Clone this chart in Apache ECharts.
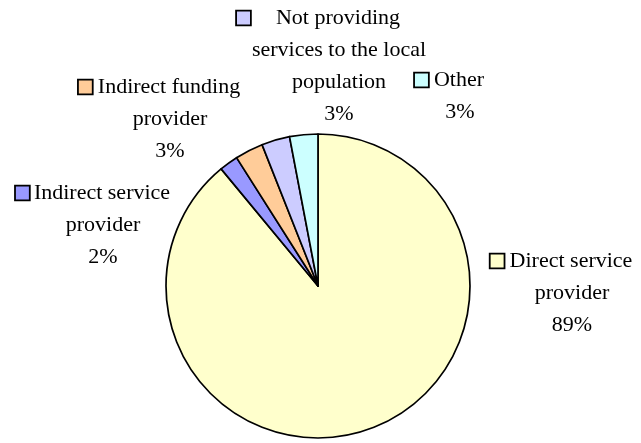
<!DOCTYPE html>
<html>
<head>
<meta charset="utf-8">
<script src="https://cdn.jsdelivr.net/npm/echarts@6/dist/echarts.min.js"></script>
<style>
  html, body { margin: 0; padding: 0; background: #ffffff; }
  #chart { width: 641px; height: 443px; }
</style>
</head>
<body>
<div id="chart"></div>
<script>
// Categories (line breaks mark where the label wraps) and their shares in percent
const categories = [
  'Direct service\nprovider',
  'Indirect service\nprovider',
  'Indirect funding\nprovider',
  'Not providing\nservices to the local\npopulation',
  'Other'
];
const shares = [89, 2, 3, 3, 3];
const sliceColors = ['#FFFFCC', '#9999FF', '#FFCC99', '#CCCCFF', '#CCFFFF'];

// Label placement: centre x of the text block, centre y of its first line
const labelAnchors = [[572, 261], [103, 193], [170, 87], [339, 18], [460, 80]];
const keyGaps = [6, 5, 6, 26, 6];

const FONT = 'Liberation Serif, Times New Roman, serif';
const FONT_SIZE = 22;
const LINE_H = 32;
const KEY = 13;

const rich = {
  t: { fontFamily: FONT, fontSize: FONT_SIZE, color: '#000', lineHeight: LINE_H }
};
sliceColors.forEach((c, i) => {
  rich['key' + i] = {
    width: KEY, height: KEY, backgroundColor: c,
    borderColor: '#000', borderWidth: 1.8, lineHeight: LINE_H
  };
  rich['gap' + i] = { width: keyGaps[i], lineHeight: LINE_H };
  rich['pad' + i] = { width: KEY + keyGaps[i] + 2, lineHeight: LINE_H };
});

const chart = echarts.init(document.getElementById('chart'), null, { renderer: 'canvas' });

chart.setOption({
  backgroundColor: '#ffffff',
  animation: false,
  series: [{
    type: 'pie',
    center: [318, 286],
    radius: 152,
    startAngle: 90,
    clockwise: true,
    avoidLabelOverlap: false,
    data: categories.map((name, i) => ({
      name: name,
      value: shares[i],
      itemStyle: { color: sliceColors[i] }
    })),
    itemStyle: { borderColor: '#000', borderWidth: 1.7 },
    emphasis: { disabled: true },
    label: {
      show: true,
      position: 'outside',
      fontFamily: FONT,
      fontSize: FONT_SIZE,
      color: '#000',
      lineHeight: LINE_H,
      formatter: function (p) {
        const i = p.dataIndex;
        const lines = p.name.split('\n');
        const out = [];
        out.push('{key' + i + '|}{gap' + i + '|}{t|' + lines[0] + '}{pad' + i + '|}');
        for (let k = 1; k < lines.length; k++) out.push('{t|' + lines[k] + '}');
        out.push('{t|' + Math.round(p.percent) + '%}');
        return out.join('\n');
      },
      rich: rich
    },
    labelLine: { show: false },
    labelLayout: function (params) {
      const a = labelAnchors[params.dataIndex];
      return {
        x: a[0],
        y: a[1] - LINE_H / 2,
        align: 'center',
        verticalAlign: 'top',
        hideOverlap: false
      };
    }
  }]
});
</script>
</body>
</html>
